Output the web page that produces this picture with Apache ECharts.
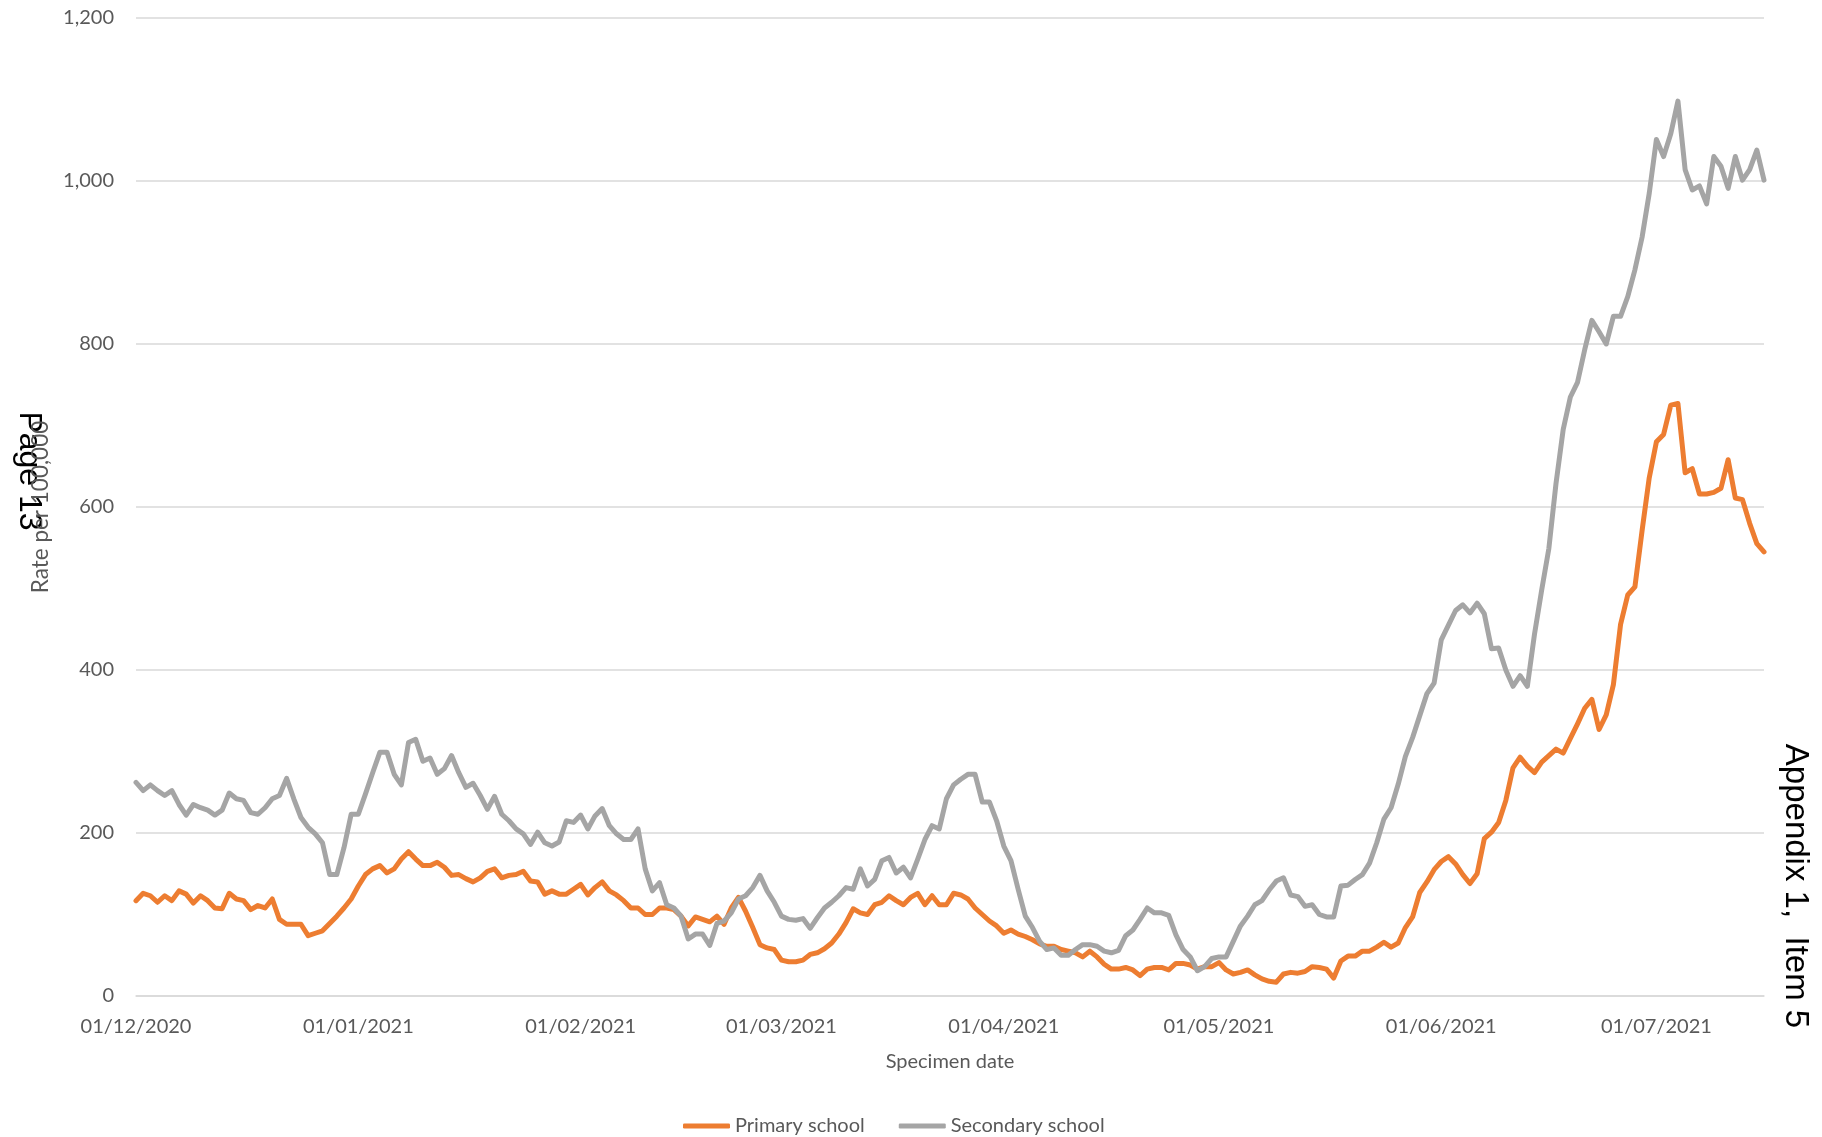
<!DOCTYPE html>
<html>
<head>
<meta charset="utf-8">
<script src="https://cdn.jsdelivr.net/npm/echarts@6/dist/echarts.min.js"></script>
<style>
  html, body { margin: 0; padding: 0; background: #fff; }
  #chart { width: 1822px; height: 1137px; }
</style>
</head>
<body>
<div id="chart"></div>
<script>
// daily rate per 100,000, from 01/12/2020
const firstDay = [2020, 11, 1];

const primarySchool = [
  117, 126, 123, 115, 123, 117, 129, 125, 114, 123, 117, 108, 107, 126, 119, 117, 106, 111, 108, 119,
  94, 88, 88, 88, 74, 77, 80, 89, 98, 108, 119, 135, 149, 156, 160, 151, 156, 168, 177, 168,
  160, 160, 164, 158, 148, 149, 144, 140, 145, 153, 156, 145, 148, 149, 153, 141, 140, 125, 129, 125,
  125, 131, 137, 124, 133, 140, 129, 124, 117, 108, 108, 100, 100, 108, 108, 106, 98, 86, 97, 94,
  91, 98, 88, 108, 121, 104, 84, 63, 59, 57, 44, 42, 42, 44, 51, 53, 58, 65, 76, 90,
  107, 102, 100, 112, 115, 123, 117, 112, 121, 126, 112, 123, 112, 112, 126, 124, 119, 108, 100, 92,
  86, 77, 81, 76, 73, 69, 64, 61, 61, 57, 55, 53, 48, 55, 48, 39, 33, 33, 35, 32,
  25, 33, 35, 35, 32, 40, 40, 38, 33, 36, 36, 41, 32, 27, 29, 32, 26, 21, 18, 17,
  27, 29, 28, 30, 36, 35, 33, 22, 43, 49, 49, 55, 55, 60, 66, 60, 65, 84, 97, 127,
  140, 155, 165, 171, 162, 149, 138, 150, 193, 201, 213, 240, 280, 293, 282, 274, 287, 295, 303, 298,
  316, 334, 353, 364, 327, 345, 382, 456, 492, 502, 571, 636, 680, 689, 725, 727, 642, 647, 616, 616,
  618, 623, 658, 611, 609, 580, 555, 545
];

const secondarySchool = [
  262, 252, 259, 252, 246, 252, 235, 222, 235, 231, 228, 222, 228, 249, 242, 240, 225, 223, 231, 242,
  246, 267, 242, 219, 207, 199, 188, 149, 149, 182, 223, 223, 248, 274, 299, 299, 272, 259, 311, 315,
  288, 292, 272, 279, 295, 274, 256, 261, 246, 229, 245, 223, 215, 205, 199, 186, 201, 188, 184, 189,
  215, 213, 222, 205, 221, 230, 209, 199, 192, 192, 205, 156, 129, 139, 112, 108, 98, 70, 76, 76,
  62, 89, 92, 102, 119, 123, 133, 148, 129, 115, 98, 94, 93, 95, 83, 96, 108, 115, 123, 133,
  131, 156, 135, 143, 166, 170, 151, 158, 145, 168, 192, 209, 205, 242, 259, 266, 272, 272, 238, 238,
  215, 184, 166, 131, 98, 84, 67, 57, 59, 50, 50, 57, 63, 63, 61, 55, 53, 56, 74, 81,
  94, 108, 102, 102, 99, 75, 57, 48, 31, 36, 46, 48, 48, 67, 86, 98, 112, 117, 130, 141,
  145, 124, 122, 110, 112, 100, 97, 97, 135, 136, 143, 149, 163, 188, 217, 231, 260, 294, 317, 344,
  371, 384, 437, 455, 473, 480, 470, 482, 469, 426, 427, 400, 380, 393, 380, 444, 498, 549, 629, 695,
  735, 753, 793, 829, 815, 800, 834, 834, 858, 891, 931, 985, 1051, 1030, 1058, 1098, 1014, 989, 994, 972,
  1030, 1018, 991, 1030, 1001, 1014, 1038, 1001
];

const seriesNames = ["Primary school", "Secondary school"];
const seriesColors = ["#ED7D31", "#A5A5A5"];

// dd/mm/yyyy labels, one per day
const pad = (n) => (n < 10 ? "0" + n : "" + n);
const dates = primarySchool.map((_, i) => {
  const d = new Date(Date.UTC(firstDay[0], firstDay[1], firstDay[2] + i));
  return pad(d.getUTCDate()) + "/" + pad(d.getUTCMonth() + 1) + "/" + d.getUTCFullYear();
});

const labelFont = "Lato";
const textGrey = "#595959";

const chart = echarts.init(document.getElementById("chart"));
chart.setOption({
  animation: false,
  grid: {
    left: 136,
    right: 58,
    top: 18,
    bottom: 141,
    containLabel: false,
    outerBoundsMode: "none",
  },
  legend: {
    data: seriesNames,
    left: 683,
    top: 1116,
    padding: 0,
    itemGap: 34,
    itemWidth: 47,
    itemHeight: 5,
    icon: "roundRect",
    textStyle: { fontFamily: labelFont, fontSize: 20, color: textGrey },
  },
  xAxis: {
    type: "category",
    data: dates,
    boundaryGap: false,
    name: "Specimen date",
    nameLocation: "middle",
    nameGap: 56,
    nameTextStyle: { fontFamily: labelFont, fontSize: 20, color: textGrey },
    axisLine: { show: true, lineStyle: { color: "#D9D9D9", width: 1.5 } },
    axisTick: { show: false },
    axisLabel: {
      // only the first of each month
      interval: (index, value) => value.slice(0, 2) === "01",
      margin: 21,
      fontFamily: labelFont,
      fontSize: 20,
      color: textGrey,
    },
    splitLine: { show: false },
  },
  yAxis: {
    type: "value",
    min: 0,
    max: 1200,
    interval: 200,
    name: "Rate per 100,000",
    nameLocation: "middle",
    nameGap: 83,
    nameTextStyle: { fontFamily: labelFont, fontSize: 22.5, color: textGrey },
    axisLine: { show: false },
    axisTick: { show: false },
    axisLabel: {
      margin: 22,
      fontFamily: labelFont,
      fontSize: 20,
      color: textGrey,
      formatter: (v) => v.toLocaleString("en-US"),
    },
    splitLine: { lineStyle: { color: "#D9D9D9", width: 1.5 } },
  },
  series: [
    {
      name: seriesNames[0],
      type: "line",
      data: primarySchool,
      showSymbol: false,
      color: seriesColors[0],
      lineStyle: { width: 5, color: seriesColors[0], cap: "round", join: "round" },
    },
    {
      name: seriesNames[1],
      type: "line",
      data: secondarySchool,
      showSymbol: false,
      color: seriesColors[1],
      lineStyle: { width: 5, color: seriesColors[1], cap: "round", join: "round" },
    },
  ],
  // page stamps from the scanned document
  graphic: [
    {
      type: "text",
      x: 29,
      y: 471,
      rotation: -Math.PI / 2,
      style: {
        text: "Page 13",
        fill: "#000",
        font: "32px 'Liberation Sans'",
        align: "center",
        verticalAlign: "middle",
      },
    },
    {
      type: "text",
      x: 1795,
      y: 886,
      rotation: -Math.PI / 2,
      style: {
        text: "Appendix 1,  Item 5",
        fill: "#000",
        font: "33px 'Liberation Sans'",
        align: "center",
        verticalAlign: "middle",
      },
    },
  ],
});
</script>
</body>
</html>
